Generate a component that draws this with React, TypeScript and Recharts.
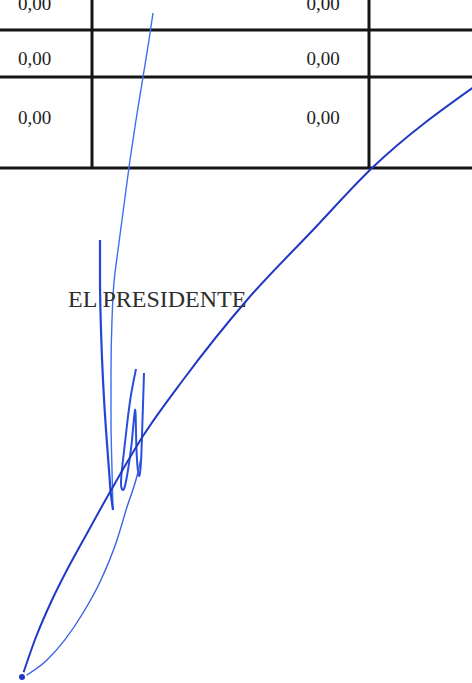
import {
  ComposedChart,
  Line,
  Scatter,
  XAxis,
  YAxis,
  ReferenceLine,
} from "recharts";

// table contents
const leftColumn = ["0,00", "0,00", "0,00"];
const middleColumn = ["0,00", "0,00", "0,00"];
const rowBaselines = [10, 65, 124];
const rowRules = [30, 77, 168];
const columnRules = [92, 369];
const caption = "EL PRESIDENTE";

// signature strokes, page coordinates
const longStroke = [
  { x: 153, y: 13 },
  { x: 149, y: 40 },
  { x: 143, y: 77 },
  { x: 136, y: 120 },
  { x: 130, y: 160 },
  { x: 124, y: 205 },
  { x: 118, y: 250 },
  { x: 114, y: 282 },
  { x: 112, y: 320 },
  { x: 111, y: 370 },
  { x: 111, y: 420 },
  { x: 112, y: 470 },
  { x: 113, y: 510 },
];

const downStroke = [
  { x: 100, y: 240 },
  { x: 100, y: 280 },
  { x: 101, y: 330 },
  { x: 103, y: 380 },
  { x: 106, y: 430 },
  { x: 109, y: 470 },
  { x: 111, y: 495 },
  { x: 113, y: 510 },
];

const wStroke = [
  { x: 136, y: 369 },
  { x: 131, y: 395 },
  { x: 127, y: 425 },
  { x: 123, y: 460 },
  { x: 121, y: 484 },
  { x: 124, y: 489 },
  { x: 128, y: 470 },
  { x: 132, y: 440 },
  { x: 135, y: 410 },
  { x: 136, y: 432 },
  { x: 137, y: 460 },
  { x: 139, y: 476 },
  { x: 141, y: 462 },
  { x: 142, y: 435 },
  { x: 143, y: 405 },
  { x: 144, y: 373 },
];

const returnStroke = [
  { x: 22, y: 678 },
  { x: 47, y: 660 },
  { x: 83, y: 613 },
  { x: 100, y: 582 },
  { x: 117, y: 540 },
  { x: 127, y: 507 },
  { x: 138, y: 472 },
  { x: 141, y: 458 },
];

const bigStroke = [
  { x: 22, y: 677 },
  { x: 36, y: 637 },
  { x: 52, y: 600 },
  { x: 68, y: 568 },
  { x: 85, y: 537 },
  { x: 110, y: 492 },
  { x: 143, y: 436 },
  { x: 183, y: 380 },
  { x: 247, y: 300 },
  { x: 313, y: 230 },
  { x: 372, y: 168 },
  { x: 478, y: 84 },
];

const W = 472;
const H = 683;

const cells = [
  ...leftColumn.map((v, i) => ({ x: 34.5, y: rowBaselines[i], label: v })),
  ...middleColumn.map((v, i) => ({ x: 323, y: rowBaselines[i], label: v })),
];

const CellText = (props: any) => {
  const { cx, cy, payload } = props;
  return (
    <text
      x={cx}
      y={cy}
      textAnchor="middle"
      fontFamily="'Liberation Serif', 'Times New Roman', serif"
      fontSize={19}
      fill="#1e1e1e"
    >
      {payload.label}
    </text>
  );
};

const CaptionText = (props: any) => {
  const { cx, cy, payload } = props;
  return (
    <text
      x={cx}
      y={cy}
      textAnchor="start"
      fontFamily="'Liberation Serif', 'Times New Roman', serif"
      fontSize={24}
      fill="#2e2e2e"
    >
      {payload.label}
    </text>
  );
};

export default function App() {
  return (
    <div
      style={{
        position: "absolute",
        left: 0,
        top: 0,
        width: W,
        height: H,
        background: "#ffffff",
      }}
    >
      <ComposedChart width={W} height={H} margin={{ top: 0, right: 0, bottom: 0, left: 0 }}>
        <XAxis type="number" dataKey="x" domain={[0, W]} hide allowDataOverflow />
        <YAxis type="number" dataKey="y" domain={[0, H]} reversed hide allowDataOverflow />

        {rowRules.map((y) => (
          <ReferenceLine key={"r" + y} y={y} stroke="#151515" strokeWidth={3} ifOverflow="visible" />
        ))}
        {columnRules.map((x) => (
          <ReferenceLine
            key={"c" + x}
            segment={[
              { x, y: 0 },
              { x, y: rowRules[rowRules.length - 1] },
            ]}
            stroke="#151515"
            strokeWidth={3}
            ifOverflow="visible"
          />
        ))}

        <Scatter data={cells} dataKey="y" shape={CellText} isAnimationActive={false} />
        <Scatter
          data={[{ x: 68, y: 307, label: caption }]}
          dataKey="y"
          shape={CaptionText}
          isAnimationActive={false}
        />

        <Line data={longStroke} dataKey="y" type="monotoneY" stroke="#3d6df2" strokeWidth={1.4} dot={false} isAnimationActive={false} />
        <Line data={downStroke} dataKey="y" type="monotoneY" stroke="#2446d8" strokeWidth={2.2} dot={false} isAnimationActive={false} />
        <Line data={wStroke} dataKey="y" type="natural" stroke="#2a4fe0" strokeWidth={2} dot={false} isAnimationActive={false} />
        <Line data={returnStroke} dataKey="y" type="monotoneX" stroke="#3a60e4" strokeWidth={1.4} dot={false} isAnimationActive={false} />
        <Line data={bigStroke} dataKey="y" type="monotoneX" stroke="#2138c4" strokeWidth={2} dot={false} isAnimationActive={false} />
      </ComposedChart>
    </div>
  );
}
